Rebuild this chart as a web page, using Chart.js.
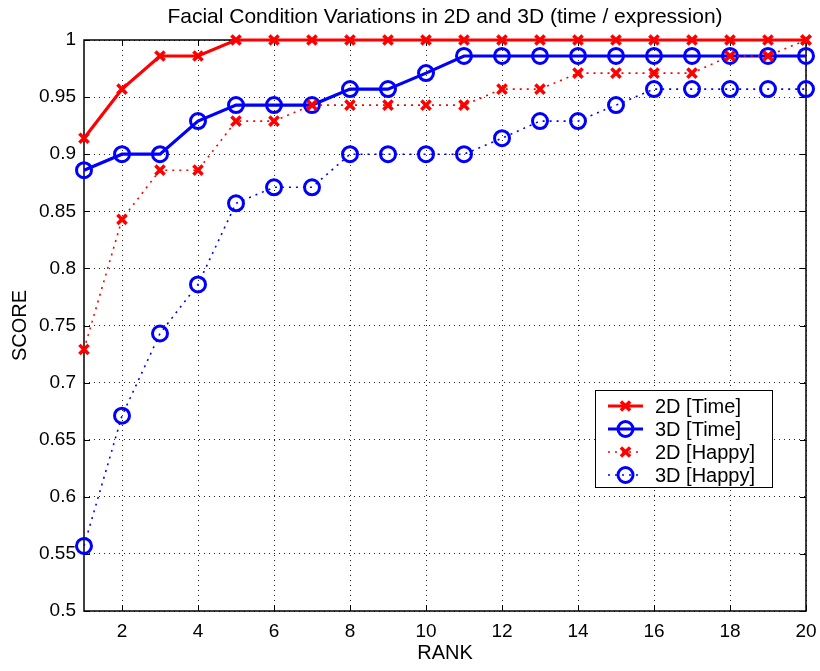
<!DOCTYPE html>
<html>
<head>
<meta charset="utf-8">
<script src="https://cdn.jsdelivr.net/npm/chart.js@4/dist/chart.umd.min.js"></script>
<style>
html,body{margin:0;padding:0;background:#fff;}
#wrap{width:820px;height:671px;position:relative;}
</style>
</head>
<body>
<div id="wrap"><canvas id="c"></canvas></div>
<script>
const ranks = [1,2,3,4,5,6,7,8,9,10,11,12,13,14,15,16,17,18,19,20];
const xTicks = [2,4,6,8,10,12,14,16,18,20];
const yTicks = [0.5,0.55,0.6,0.65,0.7,0.75,0.8,0.85,0.9,0.95,1];
const seriesNames = ['2D [Time]','3D [Time]','2D [Happy]','3D [Happy]'];
const time2D  = [0.914,0.957,0.986,0.986,1,1,1,1,1,1,1,1,1,1,1,1,1,1,1,1];
const time3D  = [0.886,0.9,0.9,0.929,0.943,0.943,0.943,0.957,0.957,0.971,0.986,0.986,0.986,0.986,0.986,0.986,0.986,0.986,0.986,0.986];
const happy2D = [0.729,0.843,0.886,0.886,0.929,0.929,0.943,0.943,0.943,0.943,0.943,0.957,0.957,0.971,0.971,0.971,0.971,0.986,0.986,1];
const happy3D = [0.557,0.671,0.743,0.786,0.857,0.871,0.871,0.9,0.9,0.9,0.9,0.914,0.929,0.929,0.943,0.957,0.957,0.957,0.957,0.957];

const FONT = '"Liberation Sans", Arial, Helvetica, sans-serif';
const RED = '#ff0000', BLUE = '#0000ff';

function pts(vals){ return vals.map((v,i)=>({x:ranks[i], y:v})); }

const styles = [
  {color:RED,  solid:true,  marker:'crossRot', r:6.5, bw:3.5},
  {color:BLUE, solid:true,  marker:'circle',   r:7.5, bw:3},
  {color:RED,  solid:false, marker:'crossRot', r:6.5, bw:3.5},
  {color:BLUE, solid:false, marker:'circle',   r:7.5, bw:3}
];
const allVals = [time2D, time3D, happy2D, happy3D];

const datasets = allVals.map((vals,i)=>{
  const s = styles[i];
  return {
    label: seriesNames[i],
    data: pts(vals),
    borderColor: s.color,
    backgroundColor: 'rgba(0,0,0,0)',
    borderWidth: s.solid ? 3.2 : 1.6,
    borderDash: s.solid ? [] : [2,5],
    pointStyle: s.marker,
    pointRadius: s.r,
    pointHoverRadius: s.r,
    pointBorderWidth: s.bw,
    pointBorderColor: s.color,
    pointBackgroundColor: 'rgba(0,0,0,0)',
    tension: 0,
    clip: 12,
    order: 4 - i
  };
});

const boxPlugin = {
  id: 'boxPlugin',
  beforeDatasetsDraw(chart){
    const {ctx, chartArea:a, scales} = chart;
    ctx.save();
    ctx.strokeStyle = '#000';
    ctx.lineWidth = 1.5;
    ctx.setLineDash([]);
    ctx.strokeRect(a.left, a.top, a.right - a.left, a.bottom - a.top);
    ctx.lineWidth = 1;
    const L = 6;
    xTicks.forEach(t=>{
      const x = Math.round(scales.x.getPixelForValue(t)) + 0.5;
      ctx.beginPath(); ctx.moveTo(x, a.bottom); ctx.lineTo(x, a.bottom - L); ctx.stroke();
      ctx.beginPath(); ctx.moveTo(x, a.top); ctx.lineTo(x, a.top + L); ctx.stroke();
    });
    yTicks.forEach(t=>{
      const y = Math.round(scales.y.getPixelForValue(t)) + 0.5;
      ctx.beginPath(); ctx.moveTo(a.left, y); ctx.lineTo(a.left + L, y); ctx.stroke();
      ctx.beginPath(); ctx.moveTo(a.right, y); ctx.lineTo(a.right - L, y); ctx.stroke();
    });
    ctx.restore();
  },
  afterDraw(chart){
    const {ctx} = chart;
    const bx = 595, by = 390, bw = 177, bh = 97;
    ctx.save();
    ctx.fillStyle = '#fff';
    ctx.fillRect(bx, by, bw, bh);
    ctx.strokeStyle = '#000';
    ctx.lineWidth = 1;
    ctx.strokeRect(bx + 0.5, by + 0.5, bw, bh);
    chart.data.datasets.forEach((ds,i)=>{
      const y = by + 16 + i * 23;
      const x0 = bx + 13, x1 = bx + 48, xm = (x0 + x1) / 2;
      ctx.strokeStyle = ds.borderColor;
      ctx.lineWidth = ds.borderWidth;
      ctx.setLineDash(ds.borderDash || []);
      ctx.beginPath(); ctx.moveTo(x0, y); ctx.lineTo(x1, y); ctx.stroke();
      ctx.setLineDash([]);
      ctx.lineWidth = ds.pointBorderWidth;
      ctx.strokeStyle = ds.borderColor;
      ctx.beginPath();
      if (ds.pointStyle === 'circle') {
        ctx.arc(xm, y, ds.pointRadius, 0, Math.PI * 2);
      } else {
        const o = ds.pointRadius * Math.SQRT1_2;
        ctx.moveTo(xm - o, y - o); ctx.lineTo(xm + o, y + o);
        ctx.moveTo(xm - o, y + o); ctx.lineTo(xm + o, y - o);
      }
      ctx.stroke();
      ctx.fillStyle = '#000';
      ctx.font = '20px ' + FONT;
      ctx.textBaseline = 'middle';
      ctx.textAlign = 'left';
      ctx.fillText(ds.label, bx + 60, y + 1);
    });
    ctx.restore();
  }
};

new Chart(document.getElementById('c'), {
  type: 'line',
  data: { datasets },
  plugins: [boxPlugin],
  options: {
    responsive: true,
    maintainAspectRatio: false,
    animation: false,
    events: [],
    layout: { padding: 0 },
    plugins: {
      legend: { display: false },
      tooltip: { enabled: false },
      title: {
        display: true,
        fullSize: false,
        text: 'Facial Condition Variations in 2D and 3D (time / expression)',
        color: '#000',
        font: { family: FONT, size: 21, weight: 'normal', lineHeight: 1.2 },
        padding: { top: 5, bottom: 9.8 }
      }
    },
    scales: {
      x: {
        type: 'linear',
        min: 1, max: 20,
        afterBuildTicks: s => { s.ticks = xTicks.map(v => ({value: v})); },
        afterFit: s => { s.height = 60; s.paddingRight = 14; s.paddingLeft = 0; },
        ticks: { color: '#000', padding: 9, font: { family: FONT, size: 19 }, maxRotation: 0, autoSkip: false },
        grid: { color: '#222', lineWidth: 1, drawTicks: false },
        border: { display: false, dash: [1, 4] },
        title: { display: true, text: 'RANK', color: '#000', font: { family: FONT, size: 20 }, padding: { top: 0, bottom: 6 } }
      },
      y: {
        type: 'linear',
        min: 0.5, max: 1,
        afterBuildTicks: s => { s.ticks = yTicks.map(v => ({value: v})); },
        afterFit: s => { s.width = 84; },
        ticks: { color: '#000', padding: 8, font: { family: FONT, size: 19 }, autoSkip: false,
                 callback: v => String(Math.round(v * 100) / 100) },
        grid: { color: '#222', lineWidth: 1, drawTicks: false },
        border: { display: false, dash: [1, 4] },
        title: { display: true, text: 'SCORE', color: '#000', font: { family: FONT, size: 20 }, padding: { top: 8, bottom: 0 } }
      }
    }
  }
});
</script>
</body>
</html>
